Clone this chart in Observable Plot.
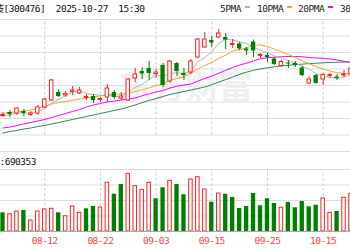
<!DOCTYPE html>
<html>
<head>
<meta charset="utf-8">
<script src="https://cdn.jsdelivr.net/npm/d3@7"></script>
<script src="https://cdn.jsdelivr.net/npm/@observablehq/plot@0.6"></script>
<style>
html, body { margin: 0; padding: 0; background: #fff; }
#wrap { position: relative; width: 350px; height: 250px; overflow: hidden; background: #fff; }
#wrap svg { position: absolute; left: 0; top: 0; }
#wrap svg text { letter-spacing: -0.5px; }
.lg { position: absolute; top: 2.5px; font: 9.5px/11px "DejaVu Sans Mono", monospace; letter-spacing: -0.5px; color: #222; white-space: pre; }
.sw { position: absolute; top: 6px; width: 5px; height: 2px; }
.hl { position: absolute; left: 0; width: 350px; height: 1px; background: #dcdcdc; }
</style>
</head>
<body>
<div id="wrap"></div>
<script>
// ---- data ----
const titleText = "胜宏科技[300476]  2025-10-27  15:30";
const volLabel = "成交量:690353";
const dates = ["08-04","08-05","08-06","08-07","08-08","08-11","08-12","08-13","08-14","08-15","08-18","08-19","08-20","08-21","08-22","08-25","08-26","08-27","08-28","08-29","09-01","09-02","09-03","09-04","09-05","09-08","09-09","09-10","09-11","09-12","09-15","09-16","09-17","09-18","09-19","09-22","09-23","09-24","09-25","09-26","09-29","09-30","10-09","10-10","10-13","10-14","10-15","10-16","10-17","10-20","10-21"];
const open  = [128.8,134.1,132.6,135.6,130.3,132.6,141.7,152.3,164.4,159.9,165.2,162.9,156.1,158.3,153.0,156.8,164.4,155.3,152.3,185.6,196.2,200.8,192.4,205.3,181.1,208.3,193.2,194.7,217.4,232.6,243.2,247.7,247.7,236.4,237.9,230.3,240.9,219.7,220.5,215.2,204.5,209.1,208.3,201.5,178.0,190.2,184.1,189.4,187.9,190.2,191.7];
const high  = [134.1,137.1,141.7,138.6,135.6,144.7,155.3,184.1,168.9,165.9,173.5,172.0,161.4,161.4,156.8,176.5,167.4,164.4,185.6,200.8,202.3,211.4,199.2,208.3,212.9,209.9,200.8,214.4,246.2,255.3,249.2,259.9,253.8,244.7,240.2,232.6,243.9,223.5,223.5,217.4,213.6,212.9,211.4,203.8,187.9,191.7,193.2,193.2,191.7,197.7,203.8];
const low   = [126.5,126.5,129.5,128.0,128.0,129.5,140.2,150.8,156.8,156.8,159.9,161.4,152.3,147.7,149.2,149.2,153.8,152.3,150.8,179.5,184.1,182.6,185.6,172.0,178.0,188.6,182.6,191.7,215.9,231.1,232.6,246.2,229.5,231.1,228.0,220.5,217.4,215.9,209.9,205.3,203.0,200.8,202.3,188.6,177.3,177.3,175.0,185.6,182.6,187.1,188.6];
const close = [130.3,131.1,140.2,132.6,132.6,141.7,153.8,182.6,158.3,162.1,167.4,167.4,157.6,152.3,154.6,170.5,156.8,158.3,184.1,191.7,192.4,193.2,194.7,175.0,211.4,196.2,190.2,211.4,244.7,244.7,239.4,253.8,243.9,237.9,230.3,227.3,227.3,221.2,217.4,206.8,210.6,207.6,205.3,190.2,184.1,178.0,190.9,190.9,185.6,191.7,200.8];
const volume = [241000,223000,258000,271000,142000,258000,284000,293000,241000,197000,323000,241000,293000,323000,310000,628000,481000,606000,745000,585000,538000,628000,422000,564000,654000,606000,474000,671000,701000,542000,378000,490000,481000,439000,297000,323000,490000,332000,422000,361000,306000,374000,306000,387000,319000,339000,426000,241000,258000,435000,486000];
const volUp = [0,1,1,0,1,1,1,1,0,1,1,1,0,0,1,1,0,0,1,1,1,1,0,0,1,0,0,1,1,1,0,1,0,0,0,0,0,0,0,0,1,0,0,0,0,0,1,1,0,1,1];
const ma5  = [129.5,130.3,133.3,133.3,133.3,135.6,140.2,148.6,153.8,159.7,164.9,167.6,162.6,161.4,159.9,160.5,158.3,158.5,164.9,172.3,176.7,183.9,191.2,189.4,193.3,194.1,193.5,196.8,210.8,217.4,226.1,238.8,245.3,243.9,241.1,238.6,233.3,228.8,224.7,220.0,216.7,212.7,209.5,204.1,199.5,193.0,189.7,186.8,185.9,187.4,192.0];
const ma10 = [132.6,134.1,135.6,136.4,137.9,140.2,143.2,147.0,149.2,150.8,152.6,154.6,156.1,157.6,159.4,161.1,161.7,162.1,163.2,165.9,168.5,171.2,174.9,177.1,182.7,185.6,188.6,193.9,200.0,205.3,210.0,216.1,221.1,227.3,229.2,232.3,235.9,236.7,234.1,229.8,226.5,222.0,217.4,212.4,208.0,203.5,199.5,197.0,194.4,193.2,192.6];
const ma20 = [110.6,112.1,114.4,116.7,118.9,121.2,123.5,126.5,129.5,132.6,135.6,138.6,142.4,145.5,147.7,150.0,151.5,153.0,154.6,156.2,159.4,162.4,165.2,167.4,171.2,173.9,175.8,177.3,181.5,185.8,189.2,193.6,197.9,202.3,206.1,208.8,212.4,215.5,217.1,217.9,218.5,218.9,218.9,218.6,217.4,216.7,216.2,215.2,213.6,211.7,210.0];
const ma30 = [103.0,105.3,106.8,109.1,110.6,112.9,114.4,116.7,118.9,121.2,123.5,125.8,128.0,130.3,132.6,134.9,137.1,139.4,142.4,145.5,149.2,152.3,155.3,158.3,161.4,163.6,165.9,168.2,170.5,172.7,176.2,180.3,183.8,187.9,192.0,195.3,198.0,200.2,201.8,203.3,204.5,205.6,206.5,207.4,208.2,208.8,209.4,209.9,210.2,210.5,210.6];
const maNames  = ["5PMA","10PMA","20PMA","30PMA"];
const maColors = ["#b4b4b4","#f3a32c","#ff00ff","#2e8b57"];
const tickLabels = ["08-12","08-22","09-03","09-15","09-25","10-15"];
const priceGrid = [100,125,150,175,200,225,250,275];
const volGrid = [200000,400000,600000,800000];

// ---- drawing ----
const RED = "#ff2222", GREEN = "#008000", AXRED = "#ff4444";
const FONT = "DejaVu Sans Mono, Noto Sans CJK SC, monospace";
const idx = d3.range(dates.length);
const candles = idx.map(i => ({i, o: open[i], h: high[i], l: low[i], c: close[i], up: close[i] >= open[i]}));
const vols = idx.map(i => ({i, v: volume[i], up: volUp[i] === 1}));
const tickIdx = tickLabels.map(t => dates.indexOf(t));
const xOpt = {domain: [-0.359, 49.93], range: [0, 350]};
const maSeries = [ma30, ma20, ma10, ma5];
const maCols = [maColors[3], maColors[2], maColors[1], maColors[0]];

const pricePlot = Plot.plot({
  width: 350, height: 250, margin: 0,
  x: {...xOpt, axis: null},
  y: {domain: [100, 275], range: [134.5, 19], axis: null},
  style: {background: "#fff"},
  marks: [
    Plot.ruleY(priceGrid, {stroke: "#dedede"}),
    Plot.ruleX(tickIdx, {y1: 100, y2: 275, stroke: "#cfcfcf", strokeDasharray: "3,2"}),
    Plot.text(["东方财富"], {frameAnchor: "middle", dx: 10, dy: -37, fontSize: 34, fontWeight: "bold", fontFamily: "Noto Sans CJK SC", fill: "#efefef"}),
    ...maSeries.map((s, k) => Plot.line(idx, {x: i => i, y: i => s[i], stroke: maCols[k], strokeWidth: 1})),
    Plot.ruleX(candles.filter(d => !d.up), {x: "i", y1: "l", y2: "h", stroke: GREEN}),
    Plot.ruleX(candles.filter(d => d.up), {x: "i", y1: "l", y2: "h", stroke: RED}),
    Plot.rect(candles.filter(d => !d.up), {x1: d => d.i - 0.31, x2: d => d.i + 0.31, y1: "o", y2: "c", fill: GREEN}),
    Plot.rect(candles.filter(d => d.up), {x1: d => d.i - 0.25, x2: d => d.i + 0.25, y1: "o", y2: d => Math.abs(d.c - d.o) < 0.8 ? d.o + 0.8 : d.c, fill: "#fff", stroke: RED}),
    Plot.text([titleText], {frameAnchor: "top-left", textAnchor: "start", lineAnchor: "bottom", dx: -33, dy: 11.3, fontSize: 9.5, fontFamily: FONT, fill: "#111"}),
    Plot.text([volLabel], {frameAnchor: "top-left", textAnchor: "end", lineAnchor: "bottom", dx: 35.5, dy: 164.5, fontSize: 9.5, fontFamily: FONT, fill: "#111"})
  ]
});

const volPlot = Plot.plot({
  width: 350, height: 250, margin: 0, marginBottom: 16,
  x: {...xOpt, ticks: tickIdx, tickFormat: i => dates[i], tickSize: 0, tickPadding: 3},
  y: {domain: [0, 800000], range: [231, 169], axis: null},
  style: {background: "transparent", color: AXRED, fontFamily: FONT, fontSize: "9.5px"},
  marks: [
    Plot.ruleY(volGrid, {stroke: "#dedede"}),
    Plot.ruleX(tickIdx, {y1: 0, y2: 800000, stroke: "#cfcfcf", strokeDasharray: "3,2"}),
    Plot.rect(vols.filter(d => !d.up), {x1: d => d.i - 0.31, x2: d => d.i + 0.31, y1: 0, y2: "v", fill: GREEN}),
    Plot.rect(vols.filter(d => d.up), {x1: d => d.i - 0.25, x2: d => d.i + 0.25, y1: 0, y2: "v", fill: "#fff", stroke: RED}),
    Plot.ruleY([0], {stroke: "#aaaaaa"})
  ]
});

const wrap = document.getElementById("wrap");
wrap.appendChild(pricePlot);
wrap.appendChild(volPlot);

// panel separator of the volume header row
const hl = document.createElement("div");
hl.className = "hl"; hl.style.top = "151px";
wrap.appendChild(hl);

// legend
const lgLeft = [220, 257, 298, 340];
maNames.forEach((name, k) => {
  const t = document.createElement("div");
  t.className = "lg"; t.textContent = name; t.style.left = lgLeft[k] + "px";
  wrap.appendChild(t);
  const s = document.createElement("div");
  s.className = "sw"; s.style.background = maColors[k];
  s.style.left = (lgLeft[k] + name.length * 5.22 + 4) + "px";
  wrap.appendChild(s);
});
</script>
</body>
</html>
